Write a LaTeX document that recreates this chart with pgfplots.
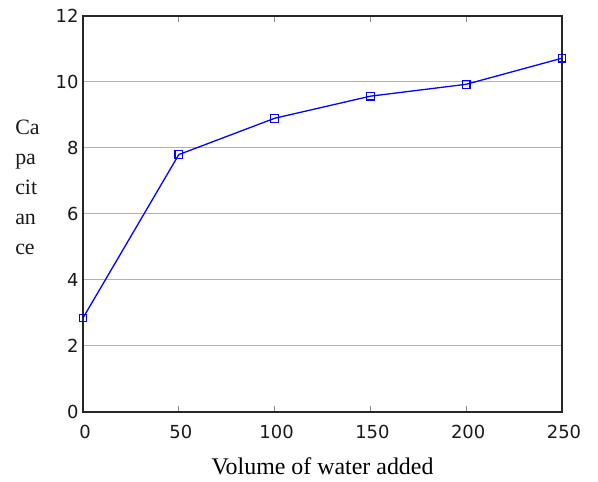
\documentclass[border=0pt]{standalone}
\usepackage{fontspec}
\setmainfont{Liberation Serif}
\newfontfamily\ticksfont{DejaVu Sans}
\usepackage{pgfplots}
\pgfplotsset{compat=1.18}
\begin{document}
\begin{tikzpicture}[x=1bp,y=1bp]
\useasboundingbox (-83,-70) rectangle (515,412);
\begin{axis}[
  at={(0,0)}, anchor=south west,
  scale only axis, width=479bp, height=396bp,
  xmin=0, xmax=250, ymin=0, ymax=12,
  xtick={0,50,...,250}, ytick={0,2,...,12},
  ymajorgrids, grid style={black!30, line width=1pt},
  axis line style={line width=1.6pt, black!85},
  ytick style={draw=none},
  xtick style={black!45, line width=0.8pt},
  major tick length=6bp,
  tick align=inside,
  xtick pos=both,
  ticklabel style={font=\ticksfont\fontsize{18}{20}\selectfont, text=black!90},
  /pgf/number format/assume math mode=true,
  yticklabel style={xshift=-1bp},
  xticklabel style={yshift=-10bp, xshift=2bp},
  xlabel={Volume of water added},
  xlabel style={font=\fontsize{24}{26}\selectfont, yshift=-12bp},
  clip=false,
]
\addplot[blue, line width=1.3pt, mark=square, mark size=3.8bp,
  mark options={line width=1.1pt, solid}] coordinates {
  (0,2.85) (50,7.8) (100,8.9) (150,9.57) (200,9.93) (250,10.72)};
\node[align=left, font=\fontsize{22}{30}\selectfont, text=black!90]
  at (rel axis cs:-0.116,0.567) {Ca\\pa\\cit\\an\\ce};
\end{axis}
\end{tikzpicture}
\end{document}
